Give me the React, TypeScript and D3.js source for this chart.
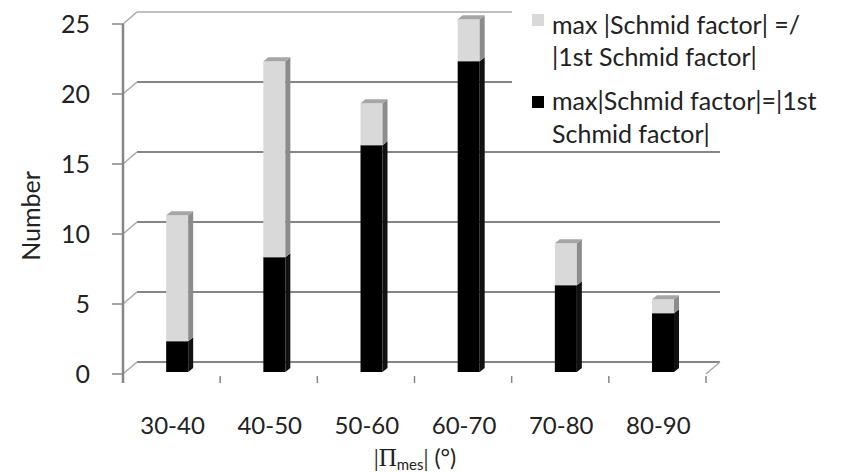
import React from "react";
import * as d3 from "d3";

const categories = ["30-40", "40-50", "50-60", "60-70", "70-80", "80-90"];
const equalValues = [2, 8, 16, 22, 6, 4]; // max|SF| = |1st SF| (black)
const notEqualValues = [9, 14, 3, 3, 3, 1]; // max|SF| =/ |1st SF| (light gray)
const yTicks = [0, 5, 10, 15, 20, 25];

const W = 844;
const H = 472;
const FONT = "Lato, 'Open Sans', sans-serif";
const SERIF = "'Liberation Serif', 'DejaVu Serif', serif";

export default function App() {
  const x = d3.scaleBand<string>().domain(categories).range([123, 706]).paddingInner(0).paddingOuter(0);
  const y = d3.scaleLinear().domain([0, 25]).range([374, 24]);
  const back = { dx: 14, dy: -12 };
  const faceOff = { dx: 5.6, dy: -4.8 };
  const depth = { dx: 5, dy: -4 };
  const bw = 22;

  const stacked = categories.map((c, i) => ({
    c,
    segs: [
      { y0: 0, y1: equalValues[i], front: "#000000", side: "#111111", top: "#2a2a2a" },
      { y0: equalValues[i], y1: equalValues[i] + notEqualValues[i], front: "#d9d9d9", side: "#8c8c8c", top: "#a6a6a6" },
    ],
  }));

  const gridColor = "#868686";
  const x0 = 123;
  const x1 = 706;

  return (
    <svg width={W} height={H} style={{ position: "absolute", left: 0, top: 0, background: "#fff" }}>
      <rect width={W} height={H} fill="#fff" />
      {yTicks.map((t) => (
        <g key={"g" + t}>
          <line
            x1={x0 + back.dx}
            x2={x1 + back.dx}
            y1={y(t) + back.dy}
            y2={y(t) + back.dy}
            stroke={t === 25 ? "#c0c0c0" : gridColor}
            strokeWidth={2}
          />
          <line x1={x0} y1={y(t)} x2={x0 + back.dx} y2={y(t) + back.dy} stroke="#a8a8a8" strokeWidth={1.5} />
          <line x1={112} x2={x0} y1={y(t)} y2={y(t)} stroke={gridColor} strokeWidth={1.5} />
        </g>
      ))}
      <line x1={x1} y1={y(0)} x2={x1 + back.dx} y2={y(0) + back.dy} stroke="#a8a8a8" strokeWidth={1.5} />
      <line x1={x0} x2={x0} y1={y(25)} y2={383} stroke={gridColor} strokeWidth={2.5} />
      {categories.map((c) => (
        <line key={"t" + c} x1={(x(c) as number) + x.bandwidth()} x2={(x(c) as number) + x.bandwidth()} y1={376} y2={383} stroke={gridColor} strokeWidth={1.5} />
      ))}
      {stacked.map((d) => {
        const cx = (x(d.c) as number) + x.bandwidth() / 2;
        const left = cx - bw / 2 + faceOff.dx;
        const right = left + bw;
        return (
          <g key={"b" + d.c}>
            {d.segs.map((s, j) => {
              if (s.y1 <= s.y0) return null;
              const top = y(s.y1) + faceOff.dy;
              const bottom = j === 0 ? y(0) - 2 : y(s.y0) + faceOff.dy;
              const isTop = j === d.segs.length - 1;
              const side = `${right},${bottom} ${right + depth.dx},${bottom + depth.dy} ${right + depth.dx},${top + depth.dy} ${right},${top}`;
              const topFace = `${left},${top} ${left + depth.dx},${top + depth.dy} ${right + depth.dx},${top + depth.dy} ${right},${top}`;
              return (
                <g key={j}>
                  <rect x={left} y={top} width={bw} height={bottom - top} fill={s.front} />
                  <polygon points={side} fill={s.side} />
                  {isTop && <polygon points={topFace} fill={s.top} />}
                </g>
              );
            })}
          </g>
        );
      })}
      {yTicks.map((t) => (
        <text key={"l" + t} x={90} y={y(t)} dy="0.36em" textAnchor="end" fontFamily={FONT} fontSize={25} fill="#222">
          {t}
        </text>
      ))}
      {categories.map((c) => (
        <text key={"xl" + c} x={(x(c) as number) + x.bandwidth() / 2 + 1} y={434} textAnchor="middle" fontFamily={FONT} fontSize={24} fill="#222">
          {c}
        </text>
      ))}
      <text x={415} y={466} textAnchor="middle" fontFamily={FONT} fontSize={23} fill="#222">
        <tspan fontFamily={SERIF} fontSize={25}>|Π</tspan>
        <tspan fontSize={15} dy={4}>mes</tspan>
        <tspan fontFamily={SERIF} fontSize={25} dy={-4}>|</tspan>
        <tspan> (°)</tspan>
      </text>
      <text transform="translate(40,216) rotate(-90)" textAnchor="middle" fontFamily={FONT} fontSize={25} fill="#222">
        Number
      </text>
      <rect x={512} y={0} width={332} height={146} fill="#fff" />
      <rect x={532} y={14} width={12} height={12} fill="#d9d9d9" />
      <rect x={532} y={96} width={12} height={12} fill="#000" />
      <g fontFamily={FONT} fontSize={25} fill="#222">
        <text x={552} y={34}>max |Schmid factor| =/</text>
        <text x={552} y={66}>|1st Schmid factor|</text>
        <text x={552} y={110}>max|Schmid factor|=|1st</text>
        <text x={552} y={143}>Schmid factor|</text>
      </g>
    </svg>
  );
}
